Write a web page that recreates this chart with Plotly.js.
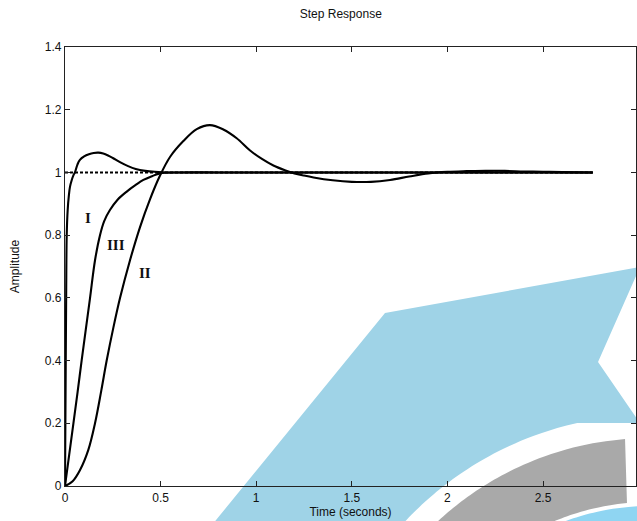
<!DOCTYPE html>
<html>
<head>
<meta charset="utf-8">
<script src="https://cdn.plot.ly/plotly-3.0.1.min.js"></script>
<style>
  html, body { margin: 0; padding: 0; background: #ffffff; }
  #chart { width: 637px; height: 521px; }
</style>
</head>
<body>
<div id="chart"></div>
<script>
// ---- Data (time in seconds, amplitude) ----
const timeI = [0, 0.003, 0.006, 0.009, 0.014, 0.02, 0.026, 0.035, 0.045, 0.052, 0.065, 0.078, 0.1, 0.125, 0.15, 0.175, 0.2, 0.225, 0.25, 0.29, 0.33, 0.37, 0.42, 0.47, 0.55, 0.8, 1.0, 1.5, 2.0, 2.5, 2.76];
const ampI  = [0, 0.3, 0.6, 0.8, 0.88, 0.925, 0.954, 0.975, 0.992, 1.0, 1.025, 1.04, 1.051, 1.058, 1.062, 1.063, 1.06, 1.054, 1.046, 1.032, 1.02, 1.011, 1.005, 1.002, 1.0, 1.0, 1.0, 1.0, 1.0, 1.0, 1.0];

const timeII = [0, 0.04, 0.078, 0.122, 0.157, 0.19, 0.218, 0.253, 0.288, 0.34, 0.392, 0.445, 0.497, 0.55, 0.619, 0.689, 0.758, 0.828, 0.898, 0.968, 1.03, 1.09, 1.15, 1.2, 1.25, 1.3, 1.4, 1.5, 1.6, 1.7, 1.8, 1.9, 2.0, 2.1, 2.2, 2.3, 2.4, 2.5, 2.6, 2.76];
const ampII  = [0, 0.015, 0.05, 0.115, 0.2, 0.305, 0.4, 0.505, 0.6, 0.72, 0.825, 0.915, 0.99, 1.05, 1.1, 1.138, 1.151, 1.137, 1.109, 1.07, 1.043, 1.022, 1.007, 0.997, 0.99, 0.984, 0.975, 0.97, 0.97, 0.976, 0.987, 0.997, 1.002, 1.004, 1.005, 1.005, 1.003, 1.002, 1.001, 1.0];

const timeIII = [0, 0.022, 0.044, 0.066, 0.087, 0.109, 0.131, 0.157, 0.183, 0.205, 0.235, 0.275, 0.323, 0.37, 0.41, 0.455, 0.497, 0.6, 0.8, 1.0, 1.5, 2.0, 2.5, 2.76];
const ampIII  = [0, 0.1, 0.2, 0.3, 0.4, 0.5, 0.6, 0.72, 0.8, 0.845, 0.88, 0.913, 0.939, 0.96, 0.976, 0.988, 0.997, 1.0, 1.0, 1.0, 1.0, 1.0, 1.0, 1.0];

const refTime = [0, 2.76];
const refAmp  = [1, 1];

const curveNames = ['I', 'II', 'III'];
const labelTime  = [0.12, 0.42, 0.265];
const labelAmp   = [0.855, 0.68, 0.77];

const xTicks = [0, 0.5, 1, 1.5, 2, 2.5];
const yTicks = [0, 0.2, 0.4, 0.6, 0.8, 1, 1.2, 1.4];

// ---- Decorative background shapes (reference watermark), in pixel space ----
const ML = 65, MT = 47, PW = 571, PH = 439;
function px(x) { return (x - ML) / PW; }
function py(y) { return (MT + PH - y) / PH; }
function pathFrom(points) {
  return points.map((p, i) => (i ? 'L' : 'M') + px(p[0]).toFixed(4) + ',' + py(p[1]).toFixed(4)).join(' ') + ' Z';
}
function arc(cx, cy, r, yStart, yEnd, n, xMax) {
  const pts = [];
  for (let i = 0; i <= n; i++) {
    const yy = yStart + (yEnd - yStart) * i / n;
    const dx = Math.sqrt(Math.max(r * r - (cy - yy) * (cy - yy), 0));
    pts.push([Math.min(cx - dx, xMax), yy]);
  }
  return pts;
}
const CX = 650, CY = 750;
const bluePts = [[212, 525], [385, 313], [640, 267], [598, 362], [640, 423]]
  .concat(arc(CX, CY, 335, 423, 525, 40, 640));
const grayPts = arc(CX, CY, 312, 439, 525, 40, 627)
  .concat(arc(CX, CY, 248, 525, 503, 20, 627))
  .concat([[627, 503]]);
const lightPts = arc(CX, CY, 244, 506, 525, 20, 640).concat([[640, 525], [640, 505]]);

const shapes = [
  { type: 'path', xref: 'paper', yref: 'paper', layer: 'below', path: pathFrom(bluePts), fillcolor: '#9fd3e7', line: { width: 0 } },
  { type: 'path', xref: 'paper', yref: 'paper', layer: 'below', path: pathFrom(grayPts), fillcolor: '#a9a9a9', line: { width: 0 } },
  { type: 'path', xref: 'paper', yref: 'paper', layer: 'below', path: pathFrom(lightPts), fillcolor: '#8fd5f2', line: { width: 0 } }
];

const lineStyle = { color: '#000000', width: 2.1, shape: 'spline', smoothing: 1 };
const traces = [
  { x: refTime, y: refAmp, mode: 'lines', line: { color: '#000000', width: 2, dash: '3px,2px' }, hoverinfo: 'skip' },
  { x: timeI, y: ampI, mode: 'lines', line: lineStyle, name: curveNames[0] },
  { x: timeII, y: ampII, mode: 'lines', line: lineStyle, name: curveNames[1] },
  { x: timeIII, y: ampIII, mode: 'lines', line: lineStyle, name: curveNames[2] }
];

const annotations = curveNames.map((n, i) => ({
  x: labelTime[i], y: labelAmp[i], xref: 'x', yref: 'y', text: '<b>' + n + '</b>', showarrow: false,
  font: { family: 'Liberation Serif, Times New Roman, serif', size: 15, color: '#111111' }
}));

const axisFont = { family: 'Liberation Sans, Arial, sans-serif', size: 12, color: '#111111' };
const layout = {
  width: 637, height: 521,
  margin: { l: ML, r: 637 - ML - PW, t: MT, b: 521 - MT - PH, pad: 0 },
  paper_bgcolor: 'rgba(0,0,0,0)',
  plot_bgcolor: 'rgba(0,0,0,0)',
  showlegend: false,
  title: { text: 'Step Response', font: axisFont, xref: 'paper', x: 0.483, xanchor: 'center', yref: 'container', y: 0.974, yanchor: 'middle' },
  xaxis: {
    range: [0, PW / 191.2], tickvals: xTicks, ticktext: xTicks.map(String),
    ticks: 'inside', ticklen: 5, tickcolor: '#222', tickwidth: 1,
    showline: true, linecolor: '#222', linewidth: 1.2, mirror: 'ticks',
    showgrid: false, zeroline: false, tickfont: axisFont,
    title: { text: 'Time (seconds)', font: axisFont, standoff: 4 }
  },
  yaxis: {
    range: [0, 1.4], tickvals: yTicks, ticktext: yTicks.map(String),
    ticks: 'inside', ticklen: 5, tickcolor: '#222', tickwidth: 1,
    showline: true, linecolor: '#222', linewidth: 1.2, mirror: 'ticks',
    showgrid: false, zeroline: false, tickfont: axisFont,
    title: { text: 'Amplitude', font: axisFont, standoff: 22 }
  },
  shapes: shapes,
  annotations: annotations
};

Plotly.newPlot('chart', traces, layout, { staticPlot: true, displayModeBar: false });
</script>
</body>
</html>
